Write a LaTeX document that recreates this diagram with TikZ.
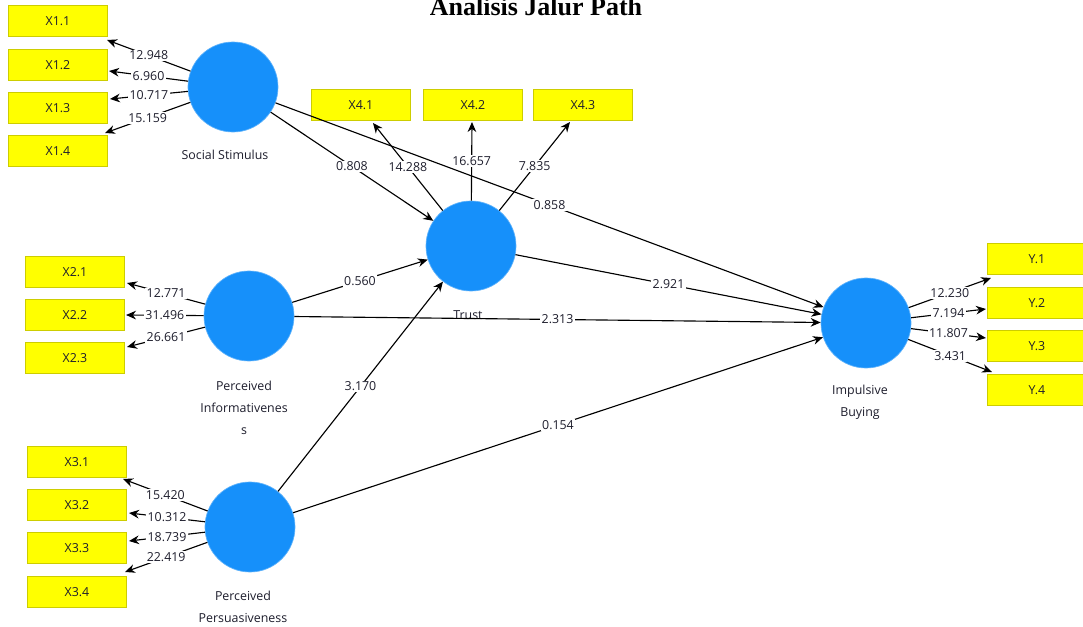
\documentclass[tikz,border=0pt]{standalone}
\usepackage{fontspec}
\setmainfont{Liberation Serif}
\newfontfamily\uifont{Open Sans}
\usetikzlibrary{arrows.meta}
\definecolor{lvblue}{RGB}{22,144,250}
\definecolor{boxyel}{RGB}{255,255,0}
\definecolor{boxedge}{RGB}{205,205,0}
\definecolor{txt}{RGB}{30,30,45}
\begin{document}
\begin{tikzpicture}[x=0.75pt,y=-0.75pt,
 lv/.style={circle, fill=lvblue, draw=lvblue!70, line width=0.5pt, minimum size=67.5pt, inner sep=0pt},
 ind/.style={rectangle, fill=boxyel, draw=boxedge, line width=1pt, minimum width=74pt, minimum height=23.5pt, inner sep=0pt, font=\uifont\fontsize{9.3}{10}\selectfont, text=txt},
 pth/.style={-{Stealth[length=7.5pt,width=6.5pt]}, line width=0.85pt, black},
 lbl/.style={fill=white, inner sep=1pt, font=\uifont\fontsize{9.3}{10}\selectfont, text=txt},
 lvcap/.style={font=\uifont\fontsize{9.3}{16.5}\selectfont, text=txt, align=center}]
\clip (0,0) rectangle (1083,627);
\fill[white] (0,0) rectangle (1083,627);

% title
\node[anchor=base, font=\bfseries\fontsize{19.5}{20}\selectfont] (title) at (536,16) {Analisis Jalur Path};

% latent variables
\node[lv] (ss) at (233,87) {};
\node[lv] (tr) at (471,246) {};
\node[lv] (pi) at (249,316) {};
\node[lv] (pp) at (250,527) {};
\node[lv] (ib) at (866,323) {};

% captions
\node[lvcap] (ssc) at (225,155) {Social Stimulus};
\node[lvcap] (trc) at (468,315) {Trust};
\node[lvcap] (pic) at (244,408) {Perceived\\Informativenes\\s};
\node[lvcap] (ppc) at (243,607) {Perceived\\Persuasiveness};
\node[lvcap] (ibc) at (860,402) {Impulsive\\Buying};

% indicators
\node[ind] (x11) at (58,21) {X1.1};
\node[ind] (x12) at (58,65) {X1.2};
\node[ind] (x13) at (58,108) {X1.3};
\node[ind] (x14) at (58,151) {X1.4};
\node[ind] (x21) at (75,272) {X2.1};
\node[ind] (x22) at (75,315) {X2.2};
\node[ind] (x23) at (75,358) {X2.3};
\node[ind] (x31) at (77,462) {X3.1};
\node[ind] (x32) at (77,505) {X3.2};
\node[ind] (x33) at (77,548) {X3.3};
\node[ind] (x34) at (77,592) {X3.4};
\node[ind] (x41) at (361,105) {X4.1};
\node[ind] (x42) at (473,105) {X4.2};
\node[ind] (x43) at (583,105) {X4.3};
\node[ind] (y1) at (1037,259) {Y.1};
\node[ind] (y2) at (1037,303) {Y.2};
\node[ind] (y3) at (1037,346) {Y.3};
\node[ind] (y4) at (1037,390) {Y.4};

% arrow tip coordinates for loadings
\coordinate (t11) at (107,40);
\coordinate (t12) at (109,71);
\coordinate (t13) at (110,99);
\coordinate (t14) at (105,133);
\coordinate (t21) at (127,283);
\coordinate (t22) at (126,315);
\coordinate (t23) at (127,347);
\coordinate (t31) at (123,479);
\coordinate (t32) at (129,513);
\coordinate (t33) at (129,541);
\coordinate (t34) at (125,572);
\coordinate (t41) at (373,123);
\coordinate (t42) at (472,122);
\coordinate (t43) at (570,122);
\coordinate (ty1) at (991,278);
\coordinate (ty2) at (986,309);
\coordinate (ty3) at (986,338);
\coordinate (ty4) at (992,372);

% outer loadings
\draw[pth] (ss) -- node[lbl]{12.948} (t11);
\draw[pth] (ss) -- node[lbl]{6.960} (t12);
\draw[pth] (ss) -- node[lbl]{10.717} (t13);
\draw[pth] (ss) -- node[lbl]{15.159} (t14);
\draw[pth] (pi) -- node[lbl]{12.771} (t21);
\draw[pth] (pi) -- node[lbl]{31.496} (t22);
\draw[pth] (pi) -- node[lbl]{26.661} (t23);
\draw[pth] (pp) -- node[lbl]{15.420} (t31);
\draw[pth] (pp) -- node[lbl]{10.312} (t32);
\draw[pth] (pp) -- node[lbl]{18.739} (t33);
\draw[pth] (pp) -- node[lbl]{22.419} (t34);
\draw[pth] (tr) -- node[lbl]{14.288} (t41);
\draw[pth] (tr) -- node[lbl]{16.657} (t42);
\draw[pth] (tr) -- node[lbl]{7.835} (t43);
\draw[pth] (ib) -- node[lbl]{12.230} (ty1);
\draw[pth] (ib) -- node[lbl]{7.194} (ty2);
\draw[pth] (ib) -- node[lbl]{11.807} (ty3);
\draw[pth] (ib) -- node[lbl]{3.431} (ty4);

% structural paths
\draw[pth] (ss) -- node[lbl]{0.808} (tr);
\draw[pth] (ss) -- node[lbl]{0.858} (ib);
\draw[pth] (pi) -- node[lbl]{0.560} (tr);
\draw[pth] (pi) -- node[lbl]{2.313} (ib);
\draw[pth] (tr) -- node[lbl]{2.921} (ib);
\draw[pth] (pp) -- node[lbl]{3.170} (tr);
\draw[pth] (pp) -- node[lbl]{0.154} (ib);
\end{tikzpicture}
\end{document}
